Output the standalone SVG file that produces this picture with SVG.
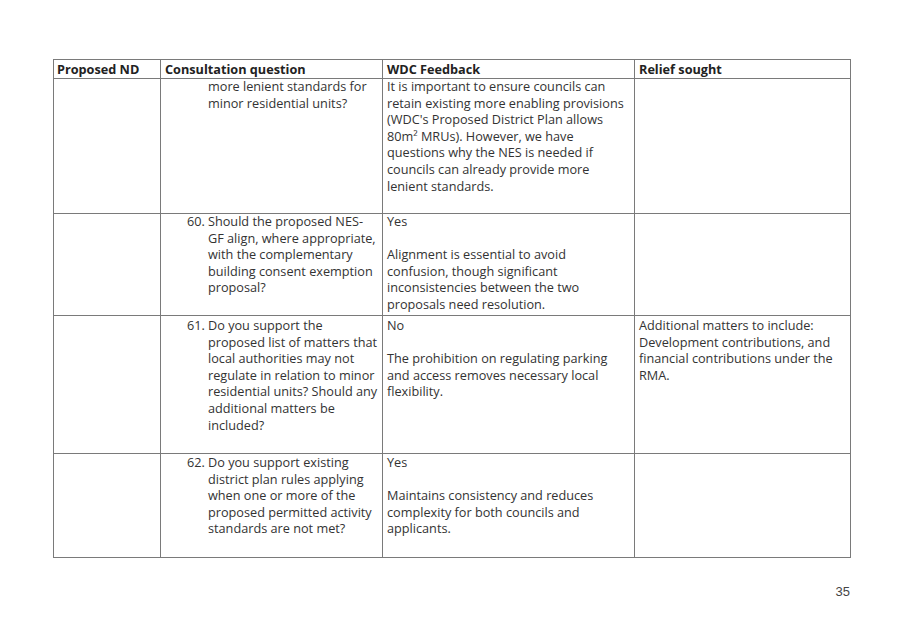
<svg xmlns="http://www.w3.org/2000/svg" width="907" height="626" viewBox="0 0 907 626">
<style>
.grid{stroke:#7a7a7a;stroke-width:1;fill:none}
text{font-family:"Open Sans","Noto Sans",sans-serif;font-size:12.7px;fill:#333}
.h{font-weight:bold;fill:#222}
.pg{font-family:"Liberation Sans",Arial,sans-serif;font-size:13px;fill:#444}
</style>
<rect width="907" height="626" fill="#fff"/>
<g id="grid" class="grid">
<rect x="53.5" y="59.5" width="797" height="498"/>
<line x1="53.5" y1="78.5" x2="850.5" y2="78.5"/>
<line x1="53.5" y1="213.5" x2="850.5" y2="213.5"/>
<line x1="53.5" y1="315.5" x2="850.5" y2="315.5"/>
<line x1="53.5" y1="453.5" x2="850.5" y2="453.5"/>
<line x1="160.5" y1="59.5" x2="160.5" y2="557.5"/>
<line x1="382.5" y1="59.5" x2="382.5" y2="557.5"/>
<line x1="634.5" y1="59.5" x2="634.5" y2="557.5"/>
</g>
<g id="header">
<text class="h" x="57" y="74">Proposed ND</text>
<text class="h" x="165" y="74">Consultation question</text>
<text class="h" x="387" y="74">WDC Feedback</text>
<text class="h" x="639" y="74">Relief sought</text>
</g>
<g id="row59">
<text x="208" y="91">more lenient standards for</text>
<text x="208" y="107.6">minor residential units?</text>
<text x="387" y="91">It is important to ensure councils can</text>
<text x="387" y="107.6">retain existing more enabling provisions</text>
<text x="387" y="124.2">(WDC's Proposed District Plan allows</text>
<text x="387" y="140.8">80m² MRUs). However, we have</text>
<text x="387" y="157.4">questions why the NES is needed if</text>
<text x="387" y="174">councils can already provide more</text>
<text x="387" y="190.6">lenient standards.</text>
</g>
<g id="row60">
<text x="187" y="226">60.</text>
<text x="208" y="226">Should the proposed NES-</text>
<text x="208" y="242.6">GF align, where appropriate,</text>
<text x="208" y="259.2">with the complementary</text>
<text x="208" y="275.8">building consent exemption</text>
<text x="208" y="292.4">proposal?</text>
<text x="387" y="226">Yes</text>
<text x="387" y="259.2">Alignment is essential to avoid</text>
<text x="387" y="275.8">confusion, though significant</text>
<text x="387" y="292.4">inconsistencies between the two</text>
<text x="387" y="309">proposals need resolution.</text>
</g>
<g id="row61">
<text x="187" y="330">61.</text>
<text x="208" y="330">Do you support the</text>
<text x="208" y="346.6">proposed list of matters that</text>
<text x="208" y="363.2">local authorities may not</text>
<text x="208" y="379.8">regulate in relation to minor</text>
<text x="208" y="396.4">residential units? Should any</text>
<text x="208" y="413">additional matters be</text>
<text x="208" y="429.6">included?</text>
<text x="387" y="330">No</text>
<text x="387" y="363.2">The prohibition on regulating parking</text>
<text x="387" y="379.8">and access removes necessary local</text>
<text x="387" y="396.4">flexibility.</text>
<text x="639" y="330">Additional matters to include:</text>
<text x="639" y="346.6">Development contributions, and</text>
<text x="639" y="363.2">financial contributions under the</text>
<text x="639" y="379.8">RMA.</text>
</g>
<g id="row62">
<text x="187" y="467">62.</text>
<text x="208" y="467">Do you support existing</text>
<text x="208" y="483.6">district plan rules applying</text>
<text x="208" y="500.2">when one or more of the</text>
<text x="208" y="516.8">proposed permitted activity</text>
<text x="208" y="533.4">standards are not met?</text>
<text x="387" y="467">Yes</text>
<text x="387" y="500.2">Maintains consistency and reduces</text>
<text x="387" y="516.8">complexity for both councils and</text>
<text x="387" y="533.4">applicants.</text>
</g>
<text class="pg" x="850" y="596" text-anchor="end">35</text>
</svg>
